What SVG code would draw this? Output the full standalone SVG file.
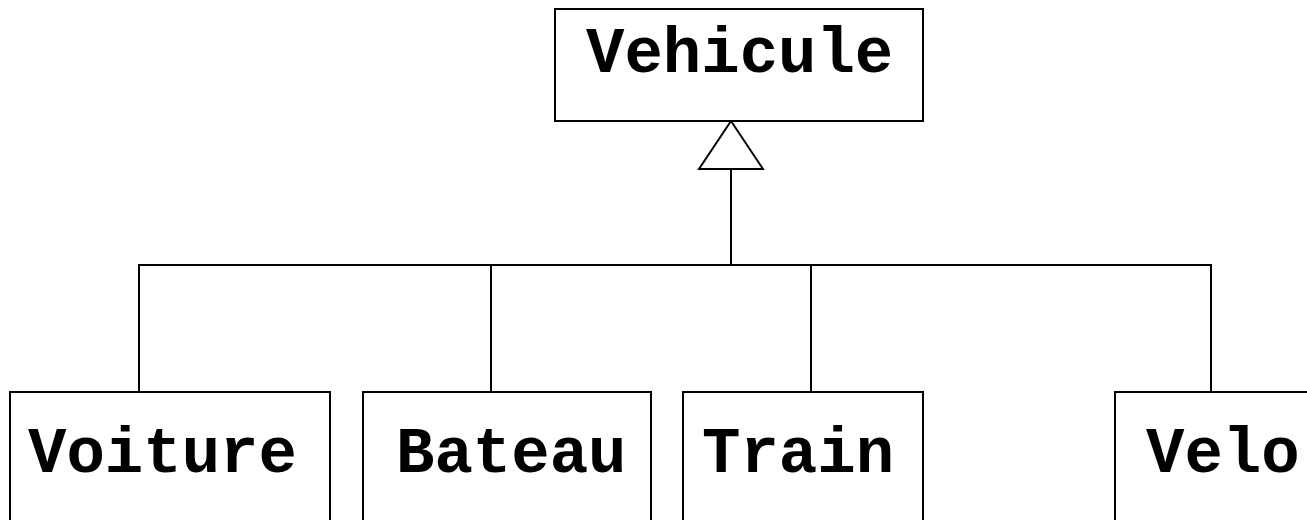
<svg xmlns="http://www.w3.org/2000/svg" width="1307" height="520" viewBox="0 0 1307 520">
<style>
.box{fill:#fff;stroke:#000;stroke-width:2}
.lbl{font-family:"Courier New","Liberation Mono",monospace;font-weight:bold;font-size:64px;fill:#000}
.ln{fill:none;stroke:#000;stroke-width:2}
</style>
<rect width="1307" height="520" fill="#fff"/>
<g id="connectors">
<polyline class="ln" points="139,392 139,265 1211,265 1211,392"/>
<line class="ln" x1="491" y1="265" x2="491" y2="392"/>
<line class="ln" x1="811" y1="265" x2="811" y2="392"/>
<line class="ln" x1="731" y1="265" x2="731" y2="169"/>
<polygon class="ln" points="731,121 763,169 699,169" fill="#fff"/>
</g>
<g id="vehicule"><rect class="box" x="555" y="9" width="368" height="112"/><text class="lbl" x="586" y="72">Vehicule</text></g>
<g id="voiture"><rect class="box" x="10" y="392" width="320" height="140"/><text class="lbl" x="28" y="472">Voiture</text></g>
<g id="bateau"><rect class="box" x="363" y="392" width="288" height="140"/><text class="lbl" x="396" y="472">Bateau</text></g>
<g id="train"><rect class="box" x="683" y="392" width="240" height="140"/><text class="lbl" x="702" y="472">Train</text></g>
<g id="velo"><rect class="box" x="1115" y="392" width="220" height="140"/><text class="lbl" x="1146" y="472">Velo</text></g>
</svg>
